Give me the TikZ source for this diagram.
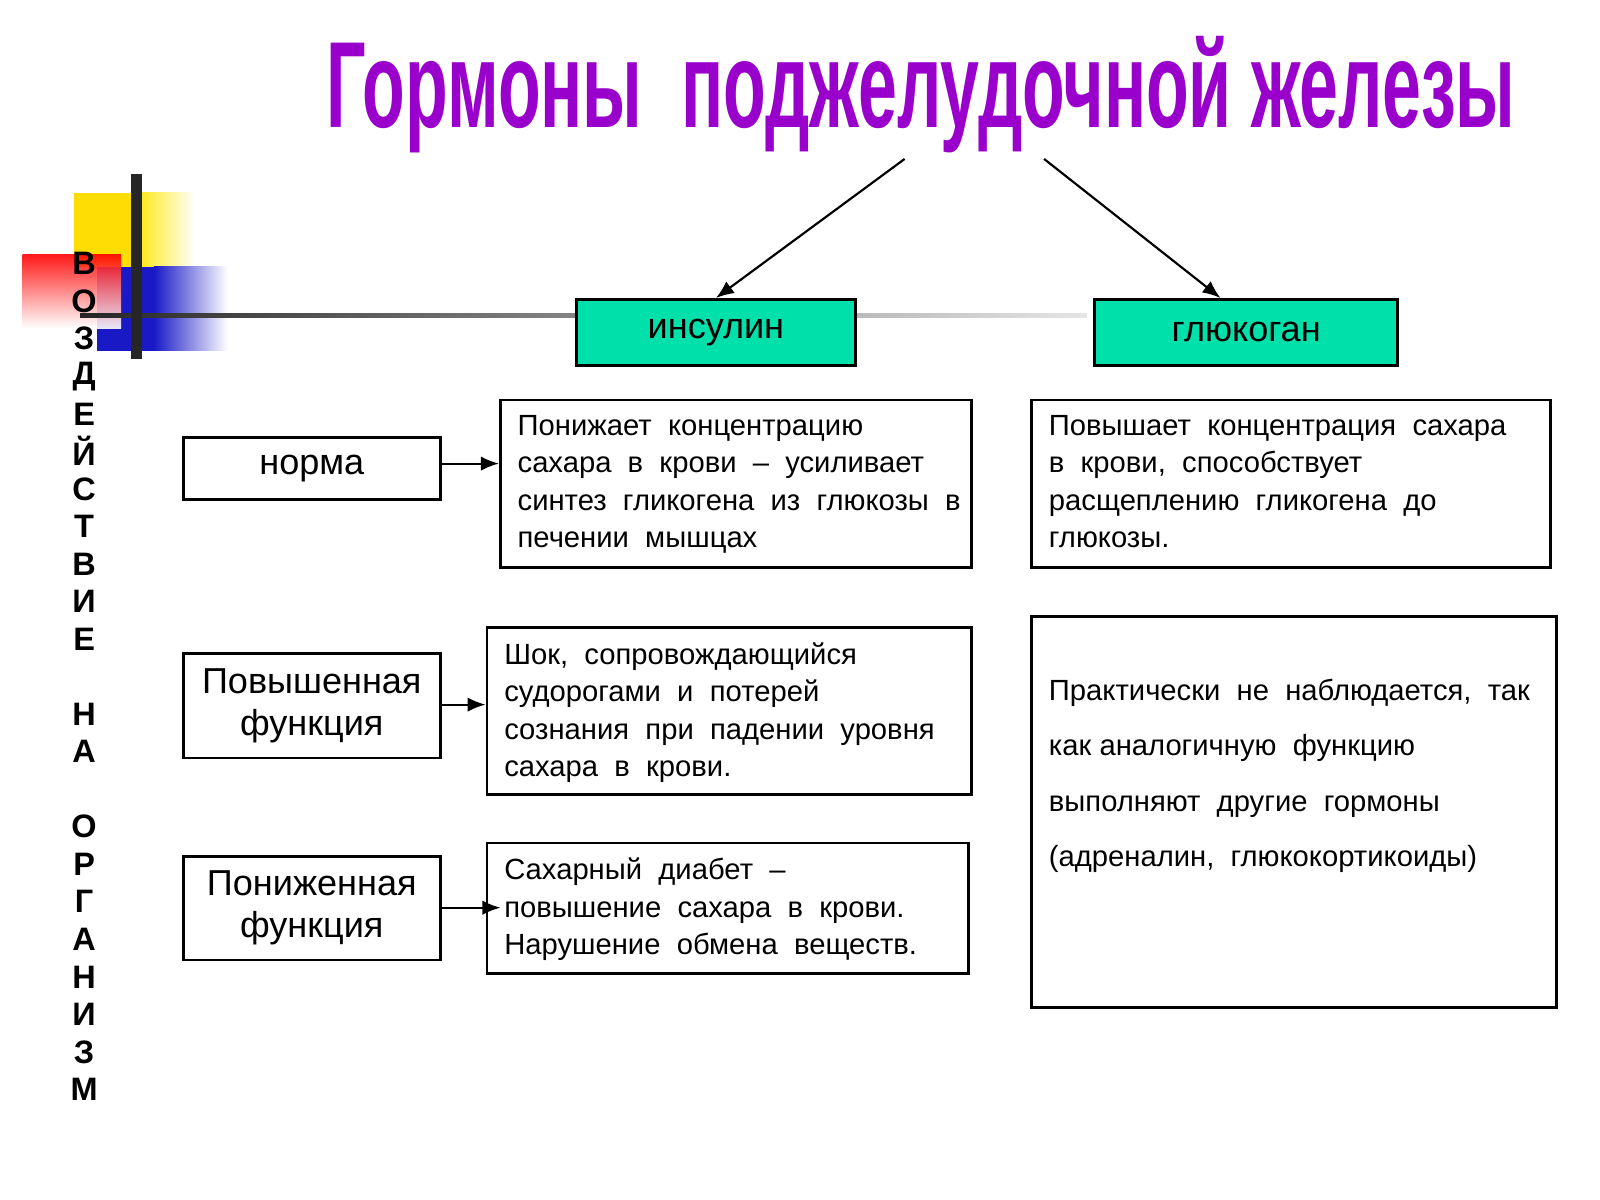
\documentclass[tikz,border=0pt]{standalone}
\usepackage{fontspec}
\usepackage{graphicx}
\setmainfont{Liberation Sans}
\usetikzlibrary{arrows.meta}
\definecolor{tealbox}{RGB}{0,224,170}
\definecolor{titlep}{RGB}{153,0,204}
\begin{document}
\begin{tikzpicture}[x=0.01cm,y=-0.01cm,
  box/.style={draw,line width=0.8pt,inner sep=0pt},
  txt/.style={anchor=north west,align=left,inner sep=0pt,font=\fontsize{8.1}{10.4}\selectfont},
  lbl/.style={font=\fontsize{10}{11.6}\selectfont,align=center},
  conn/.style={-{Latex[length=5pt,width=4pt]},line width=0.6pt}]
\useasboundingbox (0,0) rectangle (1560,1170);
% decoration
\fill[yellow!80!orange] (72,188) rectangle (130,260);
\shade[left color=yellow!80!orange,right color=white] (130,188) rectangle (190,260);
\fill[blue!75!black!90] (95,260) rectangle (150,342);
\shade[left color=blue!75!black!90,right color=white] (150,260) rectangle (222,342);
\shade[shading=axis,shading angle=-135,top color=red,bottom color=white,opacity=0.9] (22,248) rectangle (118,320);
\shade[left color=black!85,right color=black!10] (78,306) rectangle (1060,310);
\draw[line width=3pt,black!85] (133,170) -- (133,350);
% vertical text
\foreach \l/\yy in {В/257,О/294,З/330,Д/367,Е/404,Й/440,С/477,Т/513,В/550,И/586,Е/623,Н/696,А/733,О/806,Р/843,Г/879,А/916,Н/953,И/989,З/1026,М/1062}
  \node[font=\bfseries\fontsize{9}{10}\selectfont,inner sep=0pt] at (82,\yy) {\l};
% title
\node[font=\bfseries\fontsize{34}{36}\selectfont,text=titlep] (title) at (898,92) {\scalebox{0.57}[1]{Гормоны\ \ поджелудочной железы}};
% hormone boxes
\node[box,fill=tealbox,minimum width=2.72cm,minimum height=0.64cm,lbl] (ins) at (698,324) {инсулин};
\node[box,fill=tealbox,minimum width=2.95cm,minimum height=0.64cm,lbl] (glu) at (1215,324) {глюкоган};
\coordinate (t1) at (882,155); \coordinate (t2) at (1018,155);
\draw[conn] (t1) -- (ins.north);
\draw[conn] (t2) -- (glu.north -| 1190,0);
% left labels
\node[box,minimum width=2.5cm,minimum height=0.6cm,lbl] (n1) at (304,457) {норма};
\node[box,minimum width=2.5cm,minimum height=1.02cm,lbl] (n2) at (304,688) {Повышенная\\функция};
\node[box,minimum width=2.5cm,minimum height=1.01cm,lbl] (n3) at (304,885.5) {Пониженная\\функция};
% text boxes
\node[box,minimum width=4.59cm,minimum height=1.63cm] (b1) at (717.5,471.5) {};
\node[txt] at (504,404) {Понижает\ \ концентрацию\\сахара\ \ в\ \ крови\ \ –\ \ усиливает\\синтез\ \ гликогена\ \ из\ \ глюкозы\ \ в\\печении\ \ мышцах};
\node[box,minimum width=5.06cm,minimum height=1.63cm] (b2) at (1259,471.5) {};
\node[txt] at (1022,404) {Повышает\ \ концентрация\ \ сахара\\в\ \ крови,\ \ способствует\\расщеплению\ \ гликогена\ \ до\\глюкозы.};
\node[box,minimum width=4.72cm,minimum height=1.63cm] (b3) at (711,693.5) {};
\node[txt] at (491,626) {Шок,\ \ сопровождающийся\\судорогами\ \ и\ \ потерей\\сознания\ \ при\ \ падении\ \ уровня\\сахара\ \ в\ \ крови.};
\node[box,minimum width=4.69cm,minimum height=1.27cm] (b4) at (709.5,885.5) {};
\node[txt] at (491,836) {Сахарный\ \ диабет\ \ –\\повышение\ \ сахара\ \ в\ \ крови.\\Нарушение\ \ обмена\ \ веществ.};
\node[box,minimum width=5.11cm,minimum height=3.81cm] (b5) at (1261.5,791.5) {};
\node[txt,font=\fontsize{8.1}{15.4}\selectfont] at (1022,661) {Практически\ \ не\ \ наблюдается,\ \ так\\как аналогичную\ \ функцию\\выполняют\ \ другие\ \ гормоны\\(адреналин,\ \ глюкокортикоиды)};
% small arrows
\draw[conn] (n1.east |- 0,452) -- (b1.west |- 0,452);
\draw[conn] (n2.east |- 0,687) -- (b3.west |- 0,687);
\draw[conn] (n3.east |- 0,885) -- (488,885);
\end{tikzpicture}
\end{document}
